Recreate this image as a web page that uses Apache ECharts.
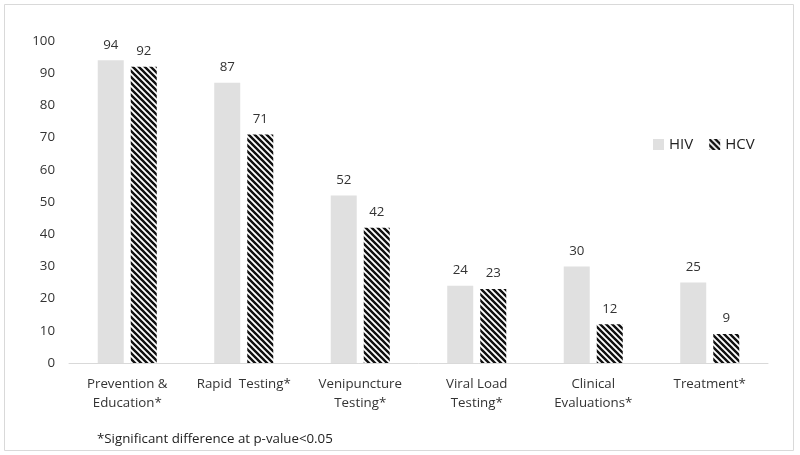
<!DOCTYPE html>
<html><head><meta charset="utf-8">
<script src="https://cdn.jsdelivr.net/npm/echarts@6/dist/echarts.min.js"></script>
<style>html,body{margin:0;padding:0;background:#fff}#c{width:800px;height:455px}</style>
</head><body><div id="c"></div>
<script>
var categories = ["Prevention &\nEducation*", "Rapid  Testing*", "Venipuncture\nTesting*", "Viral Load\nTesting*", "Clinical\nEvaluations*", "Treatment*"];
var hivValues = [94, 87, 52, 24, 30, 25];
var hcvValues = [92, 71, 42, 23, 12, 9];
var yTicks = [0, 10, 20, 30, 40, 50, 60, 70, 80, 90, 100];
var footnote = "*Significant difference at p-value<0.05";

function hatch() {
  var c = document.createElement('canvas');
  var s = 6;
  c.width = s; c.height = s;
  var g = c.getContext('2d');
  g.fillStyle = '#fff'; g.fillRect(0, 0, s, s);
  g.strokeStyle = '#111'; g.lineWidth = 2.4;
  g.beginPath();
  for (var k = -2; k <= 2; k++) {
    g.moveTo(k * s - 1, -1); g.lineTo(k * s + s + 1, s + 1);
  }
  g.stroke();
  return c;
}
var pat = { image: hatch(), repeat: 'repeat' };
var font = '"Open Sans", sans-serif';
var txt = '#333333';

var chart = echarts.init(document.getElementById('c'), null, { renderer: 'canvas' });
chart.setOption({
  animation: false,
  textStyle: { fontFamily: font },
  graphic: [
    { type: 'rect', shape: { x: 4.5, y: 4.5, width: 789, height: 446 }, style: { fill: 'none', stroke: '#d9d9d9', lineWidth: 1 }, z: -1 },
    { type: 'text', left: 97, top: 433, style: { text: footnote, font: '13.3px "Open Sans", sans-serif', fill: '#222' } }
  ],
  legend: {
    left: 648, top: 132, itemWidth: 11, itemHeight: 11, itemGap: 16,
    icon: 'rect',
    textStyle: { fontSize: 15, color: '#222', fontFamily: font },
    data: ['HIV', 'HCV']
  },
  grid: { left: 69, right: 32, top: 41, bottom: 92 },
  xAxis: {
    type: 'category', data: categories,
    axisLine: { lineStyle: { color: '#d9d9d9', width: 1 } },
    axisTick: { show: false },
    axisLabel: { color: txt, fontSize: 13.3, lineHeight: 19, margin: 12, interval: 0, fontFamily: font }
  },
  yAxis: {
    type: 'value', min: yTicks[0], max: yTicks[yTicks.length - 1], interval: 10,
    axisLine: { show: false }, axisTick: { show: false }, splitLine: { show: false },
    axisLabel: { color: txt, fontSize: 13.3, margin: 14, fontFamily: font }
  },
  series: [
    { name: 'HIV', type: 'bar', data: hivValues, barWidth: 26, barGap: '27%',
      itemStyle: { color: '#e0e0e0' },
      label: { show: true, position: 'top', distance: 9, color: txt, fontSize: 13.3, fontFamily: font } },
    { name: 'HCV', type: 'bar', data: hcvValues, barWidth: 26,
      itemStyle: { color: pat },
      label: { show: true, position: 'top', distance: 9, color: txt, fontSize: 13.3, fontFamily: font } }
  ]
});
</script></body></html>
